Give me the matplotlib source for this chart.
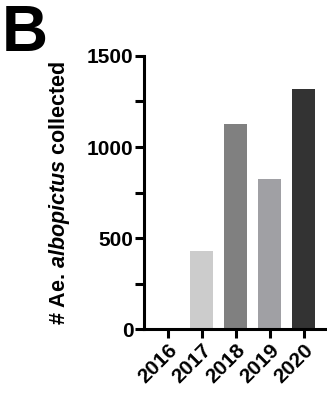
import matplotlib.pyplot as plt
from matplotlib.ticker import MultipleLocator

plt.rcParams['font.family'] = ['Liberation Sans', 'DejaVu Sans']
plt.rcParams['mathtext.fontset'] = 'custom'
plt.rcParams['mathtext.rm'] = 'Liberation Sans:bold'
plt.rcParams['mathtext.it'] = 'Liberation Sans:italic:bold'

years = ["2016", "2017", "2018", "2019", "2020"]
counts = [0, 430, 1126, 824, 1317]
colors = ["#ffffff", "#cccccc", "#808080", "#a0a0a4", "#333333"]

fig = plt.figure(figsize=(3.27, 3.97), dpi=100)
ax = fig.add_axes([0.44, 0.171, 0.56, 0.688])

ax.bar(range(len(years)), counts, width=0.67, color=colors)
ax.set_xlim(-0.7, 4.68)
ax.set_ylim(0, 1500)
ax.yaxis.set_major_locator(MultipleLocator(500))
ax.yaxis.set_minor_locator(MultipleLocator(250))

ax.spines['top'].set_visible(False)
ax.spines['right'].set_visible(False)
for s in ['left', 'bottom']:
    ax.spines[s].set_linewidth(2.2)

ax.tick_params(axis='both', which='both', width=2.2, length=6.5, labelsize=15)
ax.tick_params(axis='y', pad=1)
ax.tick_params(axis='x', pad=2)
ax.set_xticks(range(len(years)))
ax.set_xticklabels(years, rotation=45, ha='right', rotation_mode='anchor', fontweight='bold')
for lab in ax.get_yticklabels():
    lab.set_fontweight('bold')

ax.set_ylabel(r"# Ae. $\mathit{albopictus}$ collected", fontsize=15.5, fontweight='bold')
ax.yaxis.set_label_coords(-0.395, 0.5)

fig.text(0.005, 0.99, "B", fontsize=46, fontweight='bold', va='top', ha='left')

fig.savefig("out.png", dpi=100)
